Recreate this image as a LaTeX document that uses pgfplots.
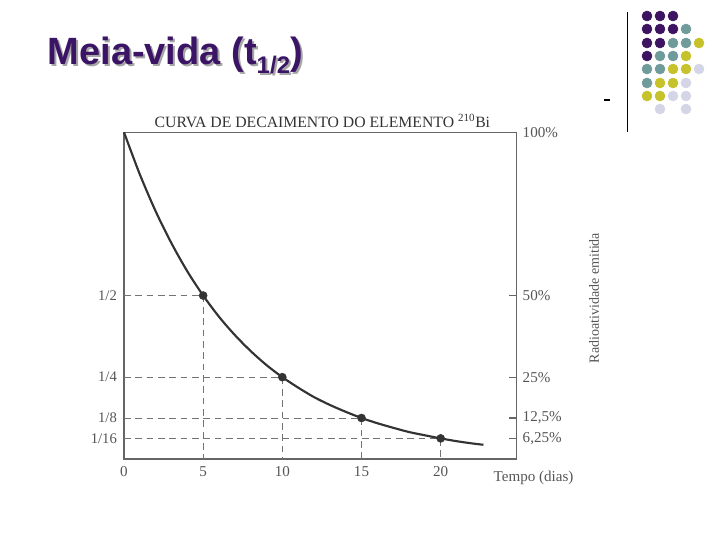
\documentclass[border=0pt]{standalone}
\usepackage{pgfplots}
\pgfplotsset{compat=1.18}
\usepackage{fontspec}
\setmainfont{Liberation Serif}
\newfontfamily\arialfont{Liberation Sans}
\definecolor{ttl}{HTML}{3B1466}
\definecolor{dP}{HTML}{3E1462}
\definecolor{dT}{HTML}{6F9B9B}
\definecolor{dY}{HTML}{C6C22B}
\definecolor{dL}{HTML}{D5D5E8}
\definecolor{ink}{HTML}{333333}
\definecolor{lab}{HTML}{555555}
\begin{document}
\begin{tikzpicture}
\path[use as bounding box] (0,0) rectangle (540pt,405pt);
% background / decoration axis in pixel units
\begin{axis}[at={(0,0)}, anchor=south west, width=540pt, height=405pt, scale only axis,
  xmin=0, xmax=720, ymin=0, ymax=540, y dir=reverse, hide axis, clip=false]
\node[anchor=base west, font=\arialfont\bfseries\fontsize{28.5}{34}\selectfont, text=black!35] at (axis cs:45,66) {Meia-vida (t\raisebox{-0.25em}{\fontsize{18}{20}\selectfont 1/2})};
\node[anchor=base west, font=\arialfont\bfseries\fontsize{28.5}{34}\selectfont, text=ttl] at (axis cs:43,64) {Meia-vida (t\raisebox{-0.25em}{\fontsize{18}{20}\selectfont 1/2})};
\addplot[scatter, only marks, scatter src=explicit symbolic, mark size=3.75pt,
  scatter/classes={P={mark=*,draw=dP,fill=dP}, T={mark=*,draw=dT,fill=dT}, Y={mark=*,draw=dY,fill=dY}, L={mark=*,draw=dL,fill=dL}}]
  table[meta=c] {
x y c
647 16 P
660 16 P
673 16 P
647 29 P
660 29 P
673 29 P
686 29 T
647 43 P
660 43 P
673 43 T
686 43 T
699 43 Y
647 56 P
660 56 T
673 56 T
686 56 Y
647 69 T
660 69 T
673 69 Y
686 69 Y
699 69 L
647 83 T
660 83 Y
673 83 Y
686 83 L
647 96 Y
660 96 Y
673 96 L
686 96 L
660 109 L
686 109 L
};
\addplot[black, line width=0.75pt] coordinates {(627,12) (627,132)};
\addplot[black, line width=1.5pt] coordinates {(604,100) (610,100)};
\node[anchor=base west, font=\fontsize{11.8}{14}\selectfont, text=ink] at (axis cs:150,127) {CURVA DE DECAIMENTO DO ELEMENTO \textsuperscript{210}Bi};
\node[anchor=base west, font=\fontsize{11.3}{13}\selectfont, text=lab] at (axis cs:489,481) {Tempo (dias)};
\node[rotate=90, font=\fontsize{10.5}{12}\selectfont, text=lab] at (axis cs:594,298) {Radioatividade emitida};
\end{axis}
% main chart axis
\begin{axis}[at={(93pt,60.9pt)}, anchor=south west, width=294.5pt, height=244.9pt, scale only axis,
  xmin=0, xmax=24.8, ymin=0, ymax=100,
  axis line style={draw=black!60, line width=1.1pt},
  xtick={0,5,10,15,20}, xtick pos=bottom, x tick style={draw=none},
  ytick={6.25,12.5,25,50,100}, yticklabels={{6,25\%},{12,5\%},25\%,50\%,100\%},
  yticklabel pos=right, ytick pos=right, tick align=inside, major tick length=6pt,
  y tick style={draw=black!60, line width=0.8pt},
  /pgf/number format/assume math mode=true,
  ticklabel style={font=\fontsize{11.3}{13}\selectfont, text=lab},
  xticklabel style={yshift=-2pt},
  yticklabel style={xshift=1pt},
  clip=false]
\addplot[black!55, line width=0.7pt, dash pattern=on 5pt off 3.5pt] coordinates {(0,50) (5,50) (5,0)};
\addplot[black!55, line width=0.7pt, dash pattern=on 5pt off 3.5pt] coordinates {(0,25) (10,25) (10,0)};
\addplot[black!55, line width=0.7pt, dash pattern=on 5pt off 3.5pt] coordinates {(0,12.5) (15,12.5) (15,0)};
\addplot[black!55, line width=0.7pt, dash pattern=on 5pt off 3.5pt] coordinates {(0,6.25) (20,6.25) (20,0)};
\addplot[ink, line width=1.6pt, smooth] coordinates {
(0,100) (1,87.1) (2,75.8) (3,66.0) (4,57.4) (5,50) (6,43.5) (7,37.9) (8,33.0) (9,28.7)
(10,25) (11,21.8) (12,18.9) (13,16.5) (14,14.4) (15,12.5) (16,10.9) (17,9.5) (18,8.2)
(19,7.2) (20,6.25) (21,5.4) (22,4.7) (22.7,4.3)};
\addplot[only marks, mark=*, mark size=3pt, draw=ink, fill=ink] coordinates {(5,50) (10,25) (15,12.5) (20,6.25)};
\node[anchor=east, font=\fontsize{11}{12}\selectfont, text=lab] at (axis cs:0,50) {1/2\,};
\node[anchor=east, font=\fontsize{11}{12}\selectfont, text=lab] at (axis cs:0,25) {1/4\,};
\node[anchor=east, font=\fontsize{11}{12}\selectfont, text=lab] at (axis cs:0,12.5) {1/8\,};
\node[anchor=east, font=\fontsize{11}{12}\selectfont, text=lab] at (axis cs:0,6.25) {1/16\,};
\end{axis}
\end{tikzpicture}
\end{document}
